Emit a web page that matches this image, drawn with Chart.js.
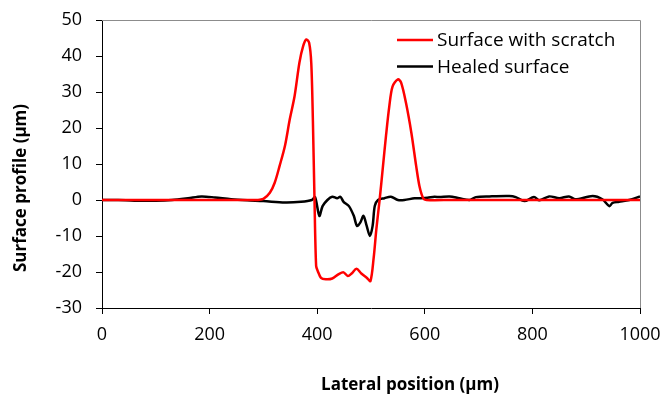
<!DOCTYPE html>
<html>
<head>
<meta charset="utf-8">
<script src="https://cdn.jsdelivr.net/npm/chart.js@4"></script>
<style>
  html, body { margin: 0; padding: 0; background: #fff; }
  #wrap { width: 664px; height: 401px; }
</style>
</head>
<body>
<div id="wrap"><canvas id="profile"></canvas></div>
<script>
// Perfil con rayadura
const scratchX = [0, 50, 100, 150, 200, 250, 290, 300, 312, 321, 330, 340, 349, 358, 367, 374, 380, 385, 389, 392, 395, 398, 401, 407, 416, 428, 440, 449, 457, 464, 473, 482, 492, 499, 505, 510, 516, 522, 528, 534, 540, 550, 556, 565, 575, 584, 590, 597, 603, 650, 700, 800, 900, 1000];
const scratchY = [0, 0, 0, 0, 0, 0, 0, 0.3, 2, 4.8, 9.4, 15, 22.4, 28.9, 38.2, 42.8, 44.6, 43.7, 38, 22, 0, -18.3, -19.7, -21.6, -22, -21.8, -20.6, -20.1, -21.1, -20.4, -19.1, -20.4, -21.6, -22.5, -16, -8, 0, 9, 18, 26, 31.5, 33.5, 32.6, 27, 18.7, 9.4, 3.9, 0.5, 0, 0, 0, 0, 0, 0];

// Perfil reparado
const healedX = [0, 30, 60, 100, 130, 160, 185, 210, 240, 270, 300, 340, 370, 390, 396, 404, 410, 419, 428, 437, 443, 449, 459, 468, 474, 480, 486, 492, 498, 503, 507, 513, 525, 537, 550, 562, 581, 593, 605, 618, 627, 646, 664, 683, 695, 720, 757, 769, 785, 803, 813, 831, 850, 868, 880, 912, 930, 943, 949, 961, 980, 1000];
const healedY = [0, 0, -0.2, -0.2, 0, 0.5, 1, 0.7, 0.2, -0.1, -0.3, -0.7, -0.5, 0, 0.8, -4.4, -1.7, 0, 0.9, 0.5, 0.9, -0.5, -1.7, -4.4, -7.2, -6.3, -4.4, -7.2, -10, -7.2, -1.7, 0, 0.5, 0.9, 0, 0, 0.5, 0.5, 0.6, 0.9, 0.8, 1, 0.5, 0, 0.8, 1, 1.1, 0.8, -0.3, 0.8, -0.1, 1, 0.5, 1, 0.2, 1.1, 0.2, -1.7, -0.8, -0.5, 0, 1];

const xTicks = [0, 200, 400, 600, 800, 1000];
const yTicks = [-30, -20, -10, 0, 10, 20, 30, 40, 50];
const xTitle = 'Lateral position (µm)';
const yTitle = 'Surface profile (µm)';

const FONT = '"Open Sans", sans-serif';

function toPoints(xs, ys) {
    return xs.map((x, i) => ({ x: x, y: ys[i] }));
}

// Marco superior y derecho, títulos y leyenda
const framePlugin = {
    id: 'frame',
    afterDraw(chart) {
        const ctx = chart.ctx;
        const a = chart.chartArea;
        ctx.save();
        ctx.strokeStyle = '#8c8c8c';
        ctx.lineWidth = 1;
        ctx.beginPath();
        ctx.moveTo(a.left, a.top + 0.5);
        ctx.lineTo(a.right + 0.5, a.top + 0.5);
        ctx.lineTo(a.right + 0.5, a.bottom);
        ctx.stroke();

        // títulos de ejes
        ctx.fillStyle = '#000';
        ctx.font = 'bold 17px ' + FONT;
        ctx.textAlign = 'center';
        ctx.textBaseline = 'middle';
        ctx.fillText(xTitle, 410, 385);
        ctx.save();
        ctx.translate(21, 188);
        ctx.rotate(-Math.PI / 2);
        ctx.fillText(yTitle, 0, 0);
        ctx.restore();

        // leyenda
        ctx.font = '19px ' + FONT;
        ctx.textAlign = 'left';
        chart.data.datasets.forEach((ds, i) => {
            const y = 40 + i * 26.5;
            ctx.strokeStyle = ds.borderColor;
            ctx.lineWidth = 2.5;
            ctx.beginPath();
            ctx.moveTo(397, y);
            ctx.lineTo(433, y);
            ctx.stroke();
            ctx.fillText(ds.label, 437, y + 1);
        });
        ctx.restore();
    }
};

const ctx = document.getElementById('profile').getContext('2d');
new Chart(ctx, {
    type: 'line',
    data: {
        datasets: [{
            label: 'Surface with scratch',
            data: toPoints(scratchX, scratchY),
            borderColor: '#ff0000',
            borderWidth: 2.5,
            pointRadius: 0,
            tension: 0.3,
            fill: false
        }, {
            label: 'Healed surface',
            data: toPoints(healedX, healedY),
            borderColor: '#000000',
            borderWidth: 2.5,
            pointRadius: 0,
            tension: 0.3,
            fill: false
        }]
    },
    options: {
        responsive: true,
        maintainAspectRatio: false,
        animation: false,
        layout: { padding: { left: 0, right: 24, top: 20, bottom: 0 } },
        plugins: {
            legend: { display: false },
            tooltip: { enabled: false }
        },
        scales: {
            x: {
                type: 'linear',
                min: 0,
                max: 1000,
                afterBuildTicks(scale) { scale.ticks = xTicks.map(v => ({ value: v })); },
                afterFit(scale) {
                    scale.height = 93;
                    scale.paddingLeft = 0;
                    scale.paddingRight = 0;
                },
                grid: { display: true, drawOnChartArea: false, tickLength: 6, color: '#000' },
                border: { display: true, color: '#000', width: 1 },
                ticks: {
                    color: '#000',
                    font: { family: FONT, size: 18 },
                    padding: 10,
                    maxRotation: 0,
                    callback: v => String(v)
                }
            },
            y: {
                min: -30,
                max: 50,
                afterBuildTicks(scale) { scale.ticks = yTicks.map(v => ({ value: v })); },
                afterFit(scale) {
                    scale.width = 102;
                    scale.paddingTop = 0;
                    scale.paddingBottom = 0;
                },
                grid: { display: true, drawOnChartArea: false, tickLength: 6, color: '#000' },
                border: { display: true, color: '#000', width: 1 },
                ticks: { color: '#000', font: { family: FONT, size: 18 }, padding: 14 }
            }
        }
    },
    plugins: [framePlugin]
});
</script>
</body>
</html>
